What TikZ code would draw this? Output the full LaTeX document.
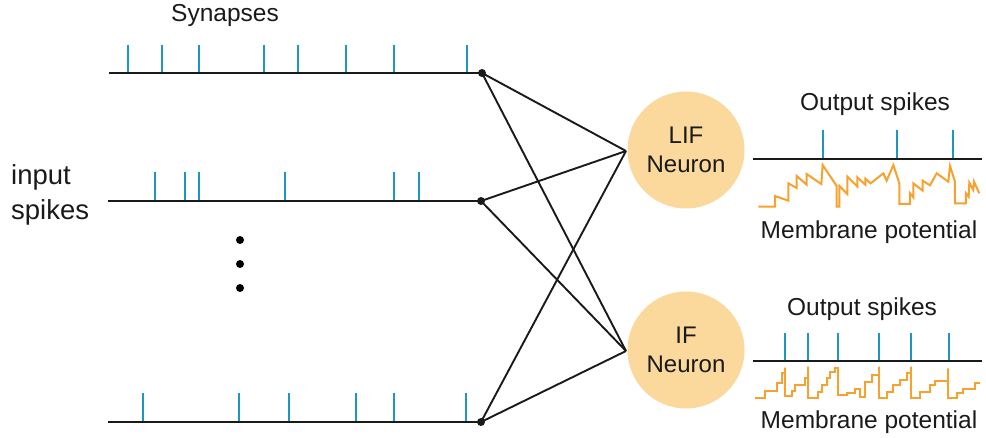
\documentclass[tikz,border=0pt]{standalone}
\usepackage{fontspec}
\setmainfont{Liberation Sans}
\definecolor{spikeblue}{HTML}{1E96C3}
\definecolor{traceorange}{HTML}{F7A12E}
\definecolor{somafill}{HTML}{FBD89B}
\definecolor{inkgray}{HTML}{1A1A1A}
\begin{document}
\begin{tikzpicture}[x=1pt,y=-1pt,
  axis/.style={line width=2.3pt, inkgray},
  wire/.style={line width=1.9pt, inkgray},
  syn/.style={line width=2.4pt, spikeblue},
  trace/.style={line width=2pt, traceorange, line join=miter},
  junction/.style={circle, fill=inkgray, inner sep=0pt, minimum size=8pt},
  ellip/.style={circle, fill=black, inner sep=0pt, minimum size=8pt},
  soma/.style={circle, fill=somafill, draw=none, minimum size=117pt, inner sep=0pt,
    align=center, text=inkgray, font=\fontsize{24}{29}\selectfont},
  lbl/.style={text=inkgray, font=\fontsize{24.5}{29}\selectfont, inner sep=0pt},
  biglbl/.style={text=inkgray, font=\fontsize{27.5}{32}\selectfont, inner sep=0pt}]
\useasboundingbox (0,0) rectangle (986,438);

% input spike trains
\coordinate (s1) at (109,73);
\coordinate (s2) at (108,201);
\coordinate (s3) at (108,422);
\node[junction] (d1) at (482,73) {};
\node[junction] (d2) at (481,201) {};
\node[junction] (d3) at (481,422) {};
\draw[axis] (s1) -- (d1.center);
\draw[axis] (s2) -- (d2.center);
\draw[axis] (s3) -- (d3.center);
\foreach \x in {128,162,199,264,298,346,394,467} \draw[syn] (\x,45) -- (\x,72);
\foreach \x in {155,185,199,285,394,419} \draw[syn] (\x,172) -- (\x,200);
\foreach \x in {143,239,289,356,394,466} \draw[syn] (\x,393) -- (\x,421);

% ellipsis between trains
\node[ellip] (e1) at (240,240) {};
\node[ellip] (e2) at (240,264) {};
\node[ellip] (e3) at (240,288) {};

% neurons
\node[soma] (lif) at (686,150) {LIF\\Neuron};
\node[soma] (ifn) at (686,350) {IF\\Neuron};
\coordinate (lifin) at (626,151);
\coordinate (ifin) at (626,351);

% all-to-all synaptic connections
\foreach \d in {d1,d2,d3} {
  \draw[wire] (\d.center) -- (lifin);
  \draw[wire] (\d.center) -- (ifin);
}

% labels
\node[lbl] (tsyn) at (225,15) {Synapses};
\node[biglbl, anchor=base west] (tin1) at (11,185) {input};
\node[biglbl, anchor=base west] (tin2) at (11,220) {spikes};
\node[lbl] (tout1) at (875,104) {Output spikes};
\node[lbl] (tout2) at (862,309) {Output spikes};
\node[lbl] (tmem1) at (869,232) {Membrane potential};
\node[lbl] (tmem2) at (869,422) {Membrane potential};

% LIF output spikes
\coordinate (o1a) at (753,159);
\coordinate (o1b) at (982,159);
\draw[axis] (o1a) -- (o1b);
\foreach \x in {823,897,953} \draw[syn] (\x,130) -- (\x,158);

% IF output spikes
\coordinate (o2a) at (753,361);
\coordinate (o2b) at (982,361);
\draw[axis] (o2a) -- (o2b);
\foreach \x in {785,808,838,879,911,949} \draw[syn] (\x,333) -- (\x,360);

% LIF membrane potential: jumps with leaky decay, reset after each spike
\begin{scope}[xshift=740pt, yshift=-150pt, x=0.3333pt, y=-0.3333pt]
\draw[trace] (55,170) -- (105,170) -- (105,138) -- (145,152) -- (145,100)
  -- (170,114) -- (170,78) -- (200,104) -- (200,72) -- (244,102) -- (248,45)
  -- (290,108) -- (290,170) -- (298,170) -- (298,108) -- (322,132) -- (322,80)
  -- (352,110) -- (352,82) -- (376,104) -- (376,86) -- (392,100) -- (430,70)
  -- (440,92) -- (460,45) -- (478,100) -- (478,162) -- (510,162) -- (510,130)
  -- (520,142) -- (520,100) -- (548,122) -- (548,92) -- (570,106) -- (590,70)
  -- (625,95) -- (630,48) -- (645,95) -- (645,160) -- (678,160) -- (678,130)
  -- (686,140) -- (688,98) -- (700,120) -- (702,95) -- (718,130);
\end{scope}

% IF membrane potential: staircase integration, reset after each spike
\begin{scope}[xshift=740pt, yshift=-320pt, x=0.3333pt, y=-0.3333pt]
\draw[trace] (45,235) -- (75,235) -- (75,213) -- (110,213) -- (110,190)
  -- (125,190) -- (125,160) -- (135,160) -- (135,143) -- (135,228) -- (155,228)
  -- (155,213) -- (165,213) -- (165,195) -- (195,195) -- (195,175) -- (205,175)
  -- (205,140) -- (205,235) -- (235,235) -- (235,215) -- (245,215) -- (245,195)
  -- (262,195) -- (262,175) -- (270,175) -- (270,155) -- (285,155) -- (285,145)
  -- (293,145) -- (293,225) -- (320,225) -- (320,218) -- (345,218) -- (345,208)
  -- (360,208) -- (360,230) -- (375,230) -- (375,185) -- (395,185) -- (395,165)
  -- (418,165) -- (418,140) -- (418,235) -- (440,235) -- (440,215) -- (460,215)
  -- (460,195) -- (480,195) -- (480,180) -- (500,180) -- (500,160) -- (512,160)
  -- (512,140) -- (512,235) -- (540,235) -- (540,215) -- (570,215) -- (570,195)
  -- (585,195) -- (585,182) -- (625,182) -- (625,145) -- (625,235) -- (650,235)
  -- (650,218) -- (670,218) -- (670,208) -- (705,208) -- (705,190) -- (720,190);
\end{scope}
\end{tikzpicture}
\end{document}
